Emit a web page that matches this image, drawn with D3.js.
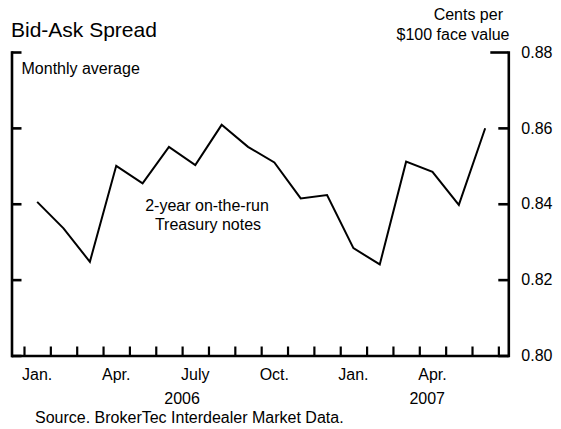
<!DOCTYPE html>
<html>
<head>
<meta charset="utf-8">
<script src="https://cdn.jsdelivr.net/npm/d3@7"></script>
<style>
  html, body { margin: 0; padding: 0; background: #fff; }
  svg { display: block; font-family: "Liberation Sans", Arial, Helvetica, sans-serif; }
</style>
</head>
<body>
<svg id="chart" width="561" height="429"></svg>
<script>
// Data: monthly average bid-ask spread, Jan 2006 - Jun 2007 (cents per $100 face value)
const months = ["2006-01","2006-02","2006-03","2006-04","2006-05","2006-06","2006-07","2006-08","2006-09",
                "2006-10","2006-11","2006-12","2007-01","2007-02","2007-03","2007-04","2007-05","2007-06"];
const spread = [0.8405, 0.8335, 0.8247, 0.8500, 0.8454, 0.8550, 0.8502, 0.8608, 0.8550,
                0.8509, 0.8414, 0.8423, 0.8283, 0.8240, 0.8511, 0.8484, 0.8397, 0.8599];
const yTicks = [0.80, 0.82, 0.84, 0.86, 0.88];
const monthLabels = [{i: 0, t: "Jan."}, {i: 3, t: "Apr."}, {i: 6, t: "July"}, {i: 9, t: "Oct."}, {i: 12, t: "Jan."}, {i: 15, t: "Apr."}];
const yearLabels = [{i: 6, t: "2006"}, {i: 15.3, t: "2007"}];

const svg = d3.select("#chart");
const pLeft = 11.5, pRight = 508.3, pTop = 52, pBottom = 355.5;

const x = d3.scaleLinear().domain([-0.474, 18.377]).range([pLeft, pRight]);
const y = d3.scaleLinear().domain([0.80, 0.88]).range([pBottom, pTop]);

const axisStroke = 2.6;

// Title and notes
svg.append("text").attr("x", 11).attr("y", 37).attr("font-size", 21).attr("fill", "#000").text("Bid-Ask Spread");
svg.append("text").attr("x", 21.5).attr("y", 74).attr("font-size", 16).attr("fill", "#000").text("Monthly average");
svg.append("text").attr("x", 503).attr("y", 20).attr("font-size", 16).attr("text-anchor", "end").text("Cents per");
svg.append("text").attr("x", 509.5).attr("y", 40).attr("font-size", 16).attr("text-anchor", "end").text("$100 face value");

// Left axis (ticks inward, no labels)
const gL = svg.append("g").attr("transform", `translate(${pLeft},0)`)
  .call(d3.axisLeft(y).tickValues(yTicks).tickSizeInner(-10).tickSizeOuter(0).tickFormat(""));
// Right axis (ticks inward, labels outside)
const gR = svg.append("g").attr("transform", `translate(${pRight},0)`)
  .call(d3.axisRight(y).tickValues(yTicks).tickSizeInner(-10).tickSizeOuter(0).tickPadding(13)
        .tickFormat(d3.format(".2f")));
// Bottom axis: month boundary ticks pointing up
const gB = svg.append("g").attr("transform", `translate(0,${pBottom})`)
  .call(d3.axisBottom(x).tickValues(d3.range(0, 19)).tickSizeInner(-9).tickSizeOuter(0).tickFormat(""));

[gL, gR, gB].forEach(g => {
  g.select(".domain").attr("stroke", "#000").attr("stroke-width", axisStroke);
  g.selectAll(".tick line").attr("stroke", "#000").attr("stroke-width", axisStroke);
  g.selectAll(".tick text").attr("font-size", 16).attr("fill", "#000")
    .attr("font-family", "'Liberation Sans', Arial, Helvetica, sans-serif");
});
gB.selectAll(".tick line").attr("stroke-width", 2.2);
// Longer top tick on right
gR.selectAll(".tick").filter(d => d === 0.88).select("line").attr("x2", -18);
// Extend verticals to cover corners
gL.select(".domain").attr("stroke-linecap", "square");
gR.select(".domain").attr("stroke-linecap", "square");

// Month labels
svg.append("g").selectAll("text").data(monthLabels).join("text")
  .attr("x", d => x(d.i + 0.5)).attr("y", 380).attr("font-size", 16)
  .attr("text-anchor", "middle").text(d => d.t);
// Year labels
svg.append("g").selectAll("text").data(yearLabels).join("text")
  .attr("x", d => x(d.i)).attr("y", 403.5).attr("font-size", 16)
  .attr("text-anchor", "middle").text(d => d.t);

// Line
const line = d3.line().x((d, i) => x(i + 0.5)).y(d => y(d));
svg.append("path").datum(spread).attr("d", line)
  .attr("fill", "none").attr("stroke", "#000").attr("stroke-width", 2).attr("stroke-linejoin", "miter");

// Series annotation
svg.append("text").attr("x", 207).attr("y", 211).attr("font-size", 16).attr("text-anchor", "middle").text("2-year on-the-run");
svg.append("text").attr("x", 208).attr("y", 229.5).attr("font-size", 16).attr("text-anchor", "middle").text("Treasury notes");

// Source
svg.append("text").attr("x", 35).attr("y", 423).attr("font-size", 16).text("Source. BrokerTec Interdealer Market Data.");
</script>
</body>
</html>
